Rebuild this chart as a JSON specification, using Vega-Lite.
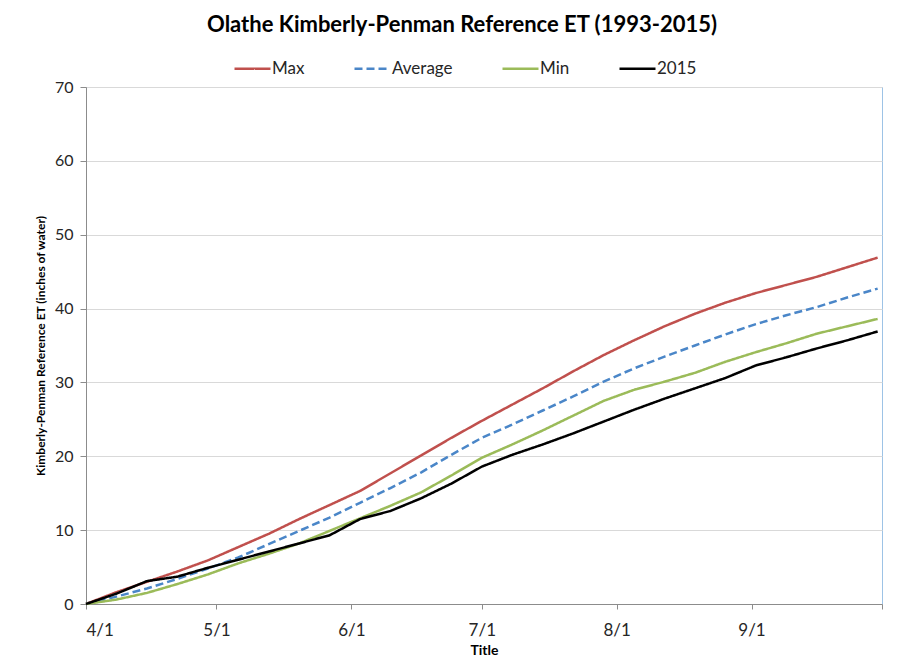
{
  "$schema": "https://vega.github.io/schema/vega-lite/v6.json",
  "width": 796,
  "height": 517,
  "autosize": "none",
  "padding": {"left": 86, "top": 87, "right": 31, "bottom": 56},
  "background": "white",
  "title": {"text": "Olathe Kimberly-Penman Reference ET (1993-2015)", "font": "Lato", "fontSize": 22, "fontWeight": "bold", "color": "#000000", "anchor": "middle", "dx": -22, "offset": 12},
  "config": {
    "view": {"stroke": "#9dc3e6", "strokeWidth": 1},
    "axis": {"labelFont": "Lato", "titleFont": "Lato", "labelColor": "#262626", "titleColor": "#000000", "domainColor": "#8c8c8c", "tickColor": "#8c8c8c"}
  },
  "data": {"values": [
    {"date": "2015-04-01", "series": "Max", "et": 0},
    {"date": "2015-04-08", "series": "Max", "et": 1.6},
    {"date": "2015-04-15", "series": "Max", "et": 3.0},
    {"date": "2015-04-22", "series": "Max", "et": 4.4},
    {"date": "2015-04-29", "series": "Max", "et": 5.9},
    {"date": "2015-05-06", "series": "Max", "et": 7.7},
    {"date": "2015-05-13", "series": "Max", "et": 9.5},
    {"date": "2015-05-20", "series": "Max", "et": 11.5},
    {"date": "2015-05-27", "series": "Max", "et": 13.4},
    {"date": "2015-06-03", "series": "Max", "et": 15.3},
    {"date": "2015-06-10", "series": "Max", "et": 17.7},
    {"date": "2015-06-17", "series": "Max", "et": 20.1},
    {"date": "2015-06-24", "series": "Max", "et": 22.5},
    {"date": "2015-07-01", "series": "Max", "et": 24.8},
    {"date": "2015-07-08", "series": "Max", "et": 27.0},
    {"date": "2015-07-15", "series": "Max", "et": 29.2},
    {"date": "2015-07-22", "series": "Max", "et": 31.5},
    {"date": "2015-07-29", "series": "Max", "et": 33.7},
    {"date": "2015-08-05", "series": "Max", "et": 35.7},
    {"date": "2015-08-12", "series": "Max", "et": 37.6},
    {"date": "2015-08-19", "series": "Max", "et": 39.3},
    {"date": "2015-08-26", "series": "Max", "et": 40.8},
    {"date": "2015-09-02", "series": "Max", "et": 42.1},
    {"date": "2015-09-09", "series": "Max", "et": 43.2},
    {"date": "2015-09-16", "series": "Max", "et": 44.3},
    {"date": "2015-09-23", "series": "Max", "et": 45.6},
    {"date": "2015-09-30", "series": "Max", "et": 46.9},
    {"date": "2015-04-01", "series": "Average", "et": 0},
    {"date": "2015-04-08", "series": "Average", "et": 1.0},
    {"date": "2015-04-15", "series": "Average", "et": 2.1},
    {"date": "2015-04-22", "series": "Average", "et": 3.4},
    {"date": "2015-04-29", "series": "Average", "et": 4.8},
    {"date": "2015-05-06", "series": "Average", "et": 6.3},
    {"date": "2015-05-13", "series": "Average", "et": 8.1},
    {"date": "2015-05-20", "series": "Average", "et": 9.9},
    {"date": "2015-05-27", "series": "Average", "et": 11.7},
    {"date": "2015-06-03", "series": "Average", "et": 13.7},
    {"date": "2015-06-10", "series": "Average", "et": 15.7},
    {"date": "2015-06-17", "series": "Average", "et": 17.8},
    {"date": "2015-06-24", "series": "Average", "et": 20.2},
    {"date": "2015-07-01", "series": "Average", "et": 22.5},
    {"date": "2015-07-08", "series": "Average", "et": 24.3},
    {"date": "2015-07-15", "series": "Average", "et": 26.2},
    {"date": "2015-07-22", "series": "Average", "et": 28.1},
    {"date": "2015-07-29", "series": "Average", "et": 30.1},
    {"date": "2015-08-05", "series": "Average", "et": 31.9},
    {"date": "2015-08-12", "series": "Average", "et": 33.5},
    {"date": "2015-08-19", "series": "Average", "et": 35.0},
    {"date": "2015-08-26", "series": "Average", "et": 36.5},
    {"date": "2015-09-02", "series": "Average", "et": 37.9},
    {"date": "2015-09-09", "series": "Average", "et": 39.1},
    {"date": "2015-09-16", "series": "Average", "et": 40.2},
    {"date": "2015-09-23", "series": "Average", "et": 41.5},
    {"date": "2015-09-30", "series": "Average", "et": 42.7},
    {"date": "2015-04-01", "series": "Min", "et": 0},
    {"date": "2015-04-08", "series": "Min", "et": 0.6},
    {"date": "2015-04-15", "series": "Min", "et": 1.5},
    {"date": "2015-04-22", "series": "Min", "et": 2.7},
    {"date": "2015-04-29", "series": "Min", "et": 4.0},
    {"date": "2015-05-06", "series": "Min", "et": 5.5},
    {"date": "2015-05-13", "series": "Min", "et": 6.8},
    {"date": "2015-05-20", "series": "Min", "et": 8.2},
    {"date": "2015-05-27", "series": "Min", "et": 9.9},
    {"date": "2015-06-03", "series": "Min", "et": 11.6},
    {"date": "2015-06-10", "series": "Min", "et": 13.3},
    {"date": "2015-06-17", "series": "Min", "et": 15.1},
    {"date": "2015-06-24", "series": "Min", "et": 17.4},
    {"date": "2015-07-01", "series": "Min", "et": 19.8},
    {"date": "2015-07-08", "series": "Min", "et": 21.6},
    {"date": "2015-07-15", "series": "Min", "et": 23.5},
    {"date": "2015-07-22", "series": "Min", "et": 25.5},
    {"date": "2015-07-29", "series": "Min", "et": 27.5},
    {"date": "2015-08-05", "series": "Min", "et": 29.0},
    {"date": "2015-08-12", "series": "Min", "et": 30.1},
    {"date": "2015-08-19", "series": "Min", "et": 31.3},
    {"date": "2015-08-26", "series": "Min", "et": 32.8},
    {"date": "2015-09-02", "series": "Min", "et": 34.1},
    {"date": "2015-09-09", "series": "Min", "et": 35.3},
    {"date": "2015-09-16", "series": "Min", "et": 36.6},
    {"date": "2015-09-23", "series": "Min", "et": 37.6},
    {"date": "2015-09-30", "series": "Min", "et": 38.6},
    {"date": "2015-04-01", "series": "2015", "et": 0},
    {"date": "2015-04-08", "series": "2015", "et": 1.4},
    {"date": "2015-04-15", "series": "2015", "et": 3.1},
    {"date": "2015-04-22", "series": "2015", "et": 3.7},
    {"date": "2015-04-29", "series": "2015", "et": 4.9},
    {"date": "2015-05-06", "series": "2015", "et": 6.0},
    {"date": "2015-05-13", "series": "2015", "et": 7.1},
    {"date": "2015-05-20", "series": "2015", "et": 8.2},
    {"date": "2015-05-27", "series": "2015", "et": 9.3},
    {"date": "2015-06-03", "series": "2015", "et": 11.5},
    {"date": "2015-06-10", "series": "2015", "et": 12.6},
    {"date": "2015-06-17", "series": "2015", "et": 14.3},
    {"date": "2015-06-24", "series": "2015", "et": 16.3},
    {"date": "2015-07-01", "series": "2015", "et": 18.6},
    {"date": "2015-07-08", "series": "2015", "et": 20.2},
    {"date": "2015-07-15", "series": "2015", "et": 21.6},
    {"date": "2015-07-22", "series": "2015", "et": 23.1},
    {"date": "2015-07-29", "series": "2015", "et": 24.7},
    {"date": "2015-08-05", "series": "2015", "et": 26.3},
    {"date": "2015-08-12", "series": "2015", "et": 27.8},
    {"date": "2015-08-19", "series": "2015", "et": 29.2},
    {"date": "2015-08-26", "series": "2015", "et": 30.6},
    {"date": "2015-09-02", "series": "2015", "et": 32.3},
    {"date": "2015-09-09", "series": "2015", "et": 33.4},
    {"date": "2015-09-16", "series": "2015", "et": 34.6},
    {"date": "2015-09-23", "series": "2015", "et": 35.7},
    {"date": "2015-09-30", "series": "2015", "et": 36.9}
  ]},
  "mark": {"type": "line", "strokeWidth": 2.5},
  "encoding": {
    "x": {
      "field": "date", "type": "temporal",
      "scale": {"type": "utc", "domain": [{"year": 2015, "month": 4, "date": 1, "utc": true}, {"year": 2015, "month": 10, "date": 1, "utc": true}]},
      "axis": {
        "values": [
          {"year": 2015, "month": 4, "date": 1, "utc": true},
          {"year": 2015, "month": 5, "date": 1, "utc": true},
          {"year": 2015, "month": 6, "date": 1, "utc": true},
          {"year": 2015, "month": 7, "date": 1, "utc": true},
          {"year": 2015, "month": 8, "date": 1, "utc": true},
          {"year": 2015, "month": 9, "date": 1, "utc": true},
          {"year": 2015, "month": 10, "date": 1, "utc": true}
        ],
        "labelExpr": "utcmonth(datum.value) == 9 ? '' : utcFormat(datum.value, '%-m/%-d')",
        "grid": false,
        "tickSize": 5,
        "labelFontSize": 17,
        "labelPadding": 13,
        "title": "Title",
        "titleFontSize": 14,
        "titleFontWeight": "bold",
        "titlePadding": 5
      }
    },
    "y": {
      "field": "et", "type": "quantitative",
      "scale": {"domain": [0, 70], "nice": false},
      "axis": {
        "values": [0, 10, 20, 30, 40, 50, 60, 70],
        "grid": true,
        "gridColor": "#d9d9d9",
        "tickSize": 6,
        "labelPadding": 7,
        "labelFontSize": 16,
        "title": "Kimberly-Penman Reference ET (inches of water)",
        "titleFontSize": 12,
        "titleFontWeight": "bold",
        "titlePadding": 7
      }
    },
    "color": {
      "field": "series", "type": "nominal",
      "scale": {"domain": ["Max", "Average", "Min", "2015"], "range": ["#c0504d", "#4a86c8", "#9bbb59", "#000000"]},
      "legend": {
        "title": null, "orient": "none", "legendX": 147, "legendY": -38, "direction": "horizontal",
        "symbolType": "stroke", "symbolSize": 1296, "symbolStrokeWidth": 2.5,
        "labelFont": "Lato", "labelFontSize": 17, "labelColor": "#262626", "labelOffset": 0, "columnPadding": 44
      }
    },
    "strokeDash": {
      "field": "series", "type": "nominal",
      "scale": {"domain": ["Max", "Average", "Min", "2015"], "range": [[1, 0], [8, 4], [1, 0], [1, 0]]},
      "legend": null
    }
  }
}
